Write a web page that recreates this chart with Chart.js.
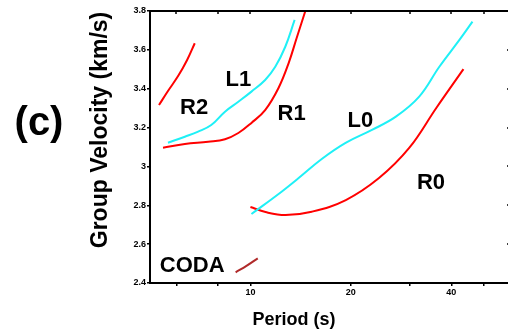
<!DOCTYPE html>
<html>
<head>
<meta charset="utf-8">
<script src="https://cdn.jsdelivr.net/npm/chart.js@4.4.0/dist/chart.umd.min.js"></script>
<style>
  html, body { margin: 0; padding: 0; background: #fff; overflow: hidden; }
  #wrap { width: 508px; height: 331px; overflow: hidden; }
</style>
</head>
<body>
<div id="wrap"><canvas id="gv" width="512" height="331"></canvas></div>
<script>
// period (s) / group velocity (km/s)
let r2Period = [5.32, 5.66, 6.07, 6.46, 6.81];
let r2Vel = [3.316, 3.388, 3.465, 3.548, 3.634];

let r1Period = [5.47, 6.36, 7.47, 8.39, 9.20, 10.07, 11.07, 12.14, 13.02, 13.76, 14.61];
let r1Vel = [3.096, 3.115, 3.127, 3.140, 3.172, 3.224, 3.290, 3.404, 3.532, 3.661, 3.80];

let l1Period = [5.66, 6.36, 6.97, 7.63, 8.39, 9.20, 10.07, 11.07, 11.87, 12.72, 13.57];
let l1Vel = [3.122, 3.153, 3.179, 3.213, 3.282, 3.333, 3.385, 3.445, 3.513, 3.616, 3.754];

let l0Period = [10.07, 12.40, 13.95, 16.36, 19.29, 23.14, 27.29, 32.06, 36.84, 42.32, 46.31];
let l0Vel = [2.755, 2.870, 2.940, 3.038, 3.121, 3.188, 3.256, 3.359, 3.513, 3.651, 3.745];

let r0Period = [10.0, 11.10, 12.75, 15.27, 19.32, 24.29, 29.92, 36.07, 43.51];
let r0Vel = [2.791, 2.765, 2.750, 2.767, 2.827, 2.940, 3.095, 3.301, 3.501];

let codaPeriod = [9.03, 9.73, 10.52];
let codaVel = [2.455, 2.488, 2.527];

let xTicks = [6, 8, 10, 20, 30, 40, 50];
let xTickLabels = ['', '', '10', '20', '', '40', ''];
let yTicks = [2.4, 2.6, 2.8, 3.0, 3.2, 3.4, 3.6, 3.8];
let yTickLabels = ['2.4', '2.6', '2.8', '3', '3.2', '3.4', '3.6', '3.8'];

// curve names, anchored in data units
let curveNames = ['R2', 'L1', 'R1', 'L0', 'R0', 'CODA'];
let nameX = [6.78, 9.20, 13.29, 21.37, 34.78, 6.69];
let nameY = [3.303, 3.445, 3.270, 3.236, 2.917, 2.488];

const RED = '#ff0000';
const CYAN = '#1ff0f6';
const DARK = '#b02a2a';
const FONT = "'Liberation Sans', Arial, sans-serif";

const pts = (xs, ys) => xs.map((x, i) => ({ x: x, y: ys[i] }));

function series(xs, ys, color) {
    return {
        data: pts(xs, ys),
        borderColor: color,
        borderWidth: 2,
        pointRadius: 0,
        fill: false,
        tension: 0.4
    };
}

// frame on top/right, inward ticks, texts
const decor = {
    id: 'decor',
    afterDraw(chart) {
        const ctx = chart.ctx;
        const a = chart.chartArea;
        const xs = chart.scales.x, ys = chart.scales.y;
        ctx.save();
        ctx.strokeStyle = '#000';
        ctx.lineWidth = 2;
        ctx.beginPath();
        ctx.moveTo(a.left, a.top);
        ctx.lineTo(a.right, a.top);
        ctx.lineTo(a.right, a.bottom);
        ctx.stroke();

        ctx.lineWidth = 1.5;
        ctx.beginPath();
        xTicks.forEach(v => {
            const px = Math.round(xs.getPixelForValue(v));
            ctx.moveTo(px, a.top);
            ctx.lineTo(px, a.top + 3);
        });
        yTicks.forEach(v => {
            const py = Math.round(ys.getPixelForValue(v));
            ctx.moveTo(a.right, py);
            ctx.lineTo(a.right - 3, py);
        });
        ctx.stroke();

        ctx.fillStyle = '#000';
        ctx.textAlign = 'center';
        ctx.textBaseline = 'middle';
        ctx.font = 'bold 22px ' + FONT;
        curveNames.forEach((name, i) => {
            ctx.fillText(name, xs.getPixelForValue(nameX[i]), ys.getPixelForValue(nameY[i]));
        });

        ctx.font = 'bold 18px ' + FONT;
        ctx.fillText('Period (s)', 294, 320);

        ctx.font = 'bold 40px ' + FONT;
        ctx.fillText('(c)', 39, 124);

        ctx.translate(101, 130);
        ctx.rotate(-Math.PI / 2);
        ctx.font = 'bold 23px ' + FONT;
        ctx.fillText('Group Velocity (km/s)', 0, 0);
        ctx.restore();
    }
};

var ctx = document.getElementById('gv').getContext('2d');
var chart = new Chart(ctx, {
    type: 'line',
    data: {
        datasets: [
            series(r2Period, r2Vel, RED),
            series(r1Period, r1Vel, RED),
            series(l1Period, l1Vel, CYAN),
            series(l0Period, l0Vel, CYAN),
            series(r0Period, r0Vel, RED),
            series(codaPeriod, codaVel, DARK)
        ]
    },
    options: {
        responsive: false,
        animation: false,
        devicePixelRatio: 1,
        layout: { padding: { left: 0, top: 11, right: 2, bottom: 0 } },
        plugins: { legend: { display: false }, tooltip: { enabled: false } },
        scales: {
            x: {
                type: 'logarithmic',
                min: 5,
                max: 60,
                afterBuildTicks: (s) => { s.ticks = xTicks.map(v => ({ value: v })); },
                afterFit: (s) => { s.height = 48; },
                ticks: {
                    autoSkip: false,
                    maxRotation: 0,
                    padding: 1,
                    color: '#000',
                    font: { family: FONT, size: 9, weight: 'bold' },
                    callback: (v, i) => xTickLabels[i]
                },
                grid: { drawOnChartArea: false, tickLength: 3, color: '#000', lineWidth: 1.5 },
                border: { color: '#000', width: 2 }
            },
            y: {
                min: 2.4,
                max: 3.8,
                afterBuildTicks: (s) => { s.ticks = yTicks.map(v => ({ value: v })); },
                afterFit: (s) => { s.width = 150; },
                ticks: {
                    autoSkip: false,
                    padding: 1,
                    color: '#000',
                    font: { family: FONT, size: 9, weight: 'bold' },
                    callback: (v, i) => yTickLabels[i]
                },
                grid: { drawOnChartArea: false, tickLength: 3, color: '#000', lineWidth: 1.5 },
                border: { color: '#000', width: 2 }
            }
        }
    },
    plugins: [decor]
});
</script>
</body>
</html>
